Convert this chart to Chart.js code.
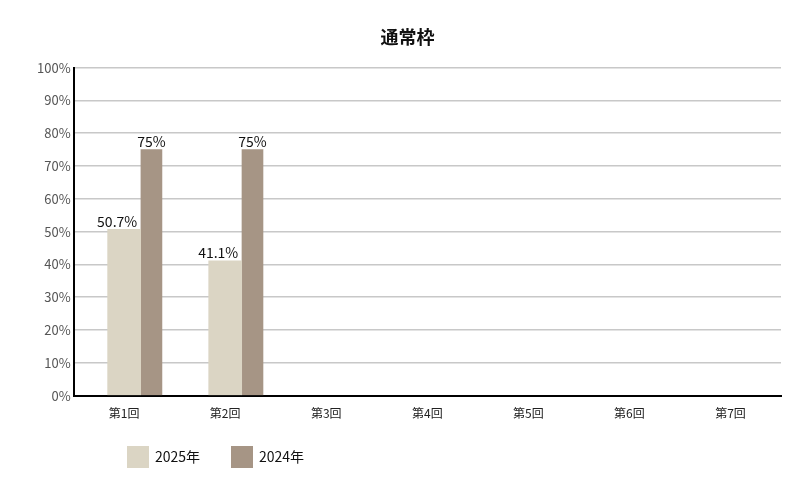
<!DOCTYPE html><html><head><meta charset="utf-8"><script src="https://cdn.jsdelivr.net/npm/chart.js@4"></script>
<style>body{margin:0;background:#fff}#w{width:799px;height:500px}</style></head><body><div id="w"><canvas id="c"></canvas></div><script>
const categories=["第1回","第2回","第3回","第4回","第5回","第6回","第7回"];
const values2025=[50.7,41.1,null,null,null,null,null];
const values2024=[75,75,null,null,null,null,null];
const labels2025=["50.7%","41.1%"];
const labels2024=["75%","75%"];
const pts=(v,off)=>v.map((y,i)=>({x:i+1+off,y})).filter(p=>p.y!==null);
const F="'Noto Sans CJK JP','Noto Sans',sans-serif";
const lbl={id:'lbl',afterDatasetsDraw(ch){const c=ch.ctx;c.save();c.font="14px "+F;c.fillStyle="#111";c.textAlign="center";c.textBaseline="bottom";
[[0,labels2025,-7],[1,labels2024,0]].forEach(([d,l,dx])=>{ch.getDatasetMeta(d).data.forEach((b,i)=>c.fillText(l[i],b.x+dx,b.y-1));});
c.textAlign="left";c.textBaseline="middle";let x=127;const y=457;
ch.data.datasets.forEach(ds=>{c.fillStyle=ds.backgroundColor;c.fillRect(x,y-11,22,22);c.fillStyle="#111";c.fillText(ds.label,x+28,y);x+=104;});
c.restore();}};
new Chart(document.getElementById('c'),{type:'bar',data:{datasets:[
{label:'2025年',data:pts(values2025,0),backgroundColor:'#dbd5c4',barThickness:33,grouped:false},
{label:'2024年',data:pts(values2024,0.27),backgroundColor:'#a69585',barThickness:21,grouped:false}]},
options:{responsive:true,maintainAspectRatio:false,animation:false,layout:{padding:{left:34,right:18,top:14,bottom:76}},
plugins:{title:{display:true,text:'通常枠',font:{family:F,size:18,weight:'bold'},color:'#111',padding:{top:12,bottom:20}},
legend:{display:false},tooltip:{enabled:false}},
scales:{x:{type:'linear',offset:false,min:0.5,max:7.5,afterBuildTicks(a){a.ticks=categories.map((_,i)=>({value:i+1}));},
ticks:{callback:v=>categories[v-1],font:{family:F,size:12},color:'#222'},grid:{display:false},border:{color:'#000',width:2}},
y:{min:0,max:100,ticks:{stepSize:10,callback:v=>v+'%',font:{family:F,size:13},color:'#555'},grid:{color:'#c8c8c8',lineWidth:1.5,drawTicks:false},border:{color:'#000',width:2}}}},
plugins:[lbl]});
</script></body></html>
